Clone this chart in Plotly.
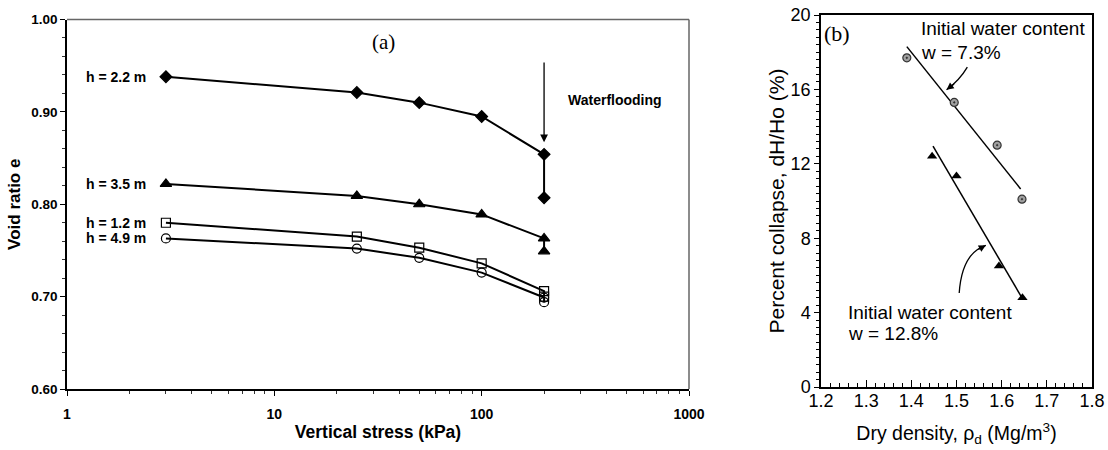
import plotly.graph_objects as go

# ---------------- data: panel (a) ----------------
stress_kpa = [3, 25, 50, 100, 200, 200]
e_h22 = [0.938, 0.921, 0.910, 0.895, 0.854, 0.807]
e_h35 = [0.822, 0.809, 0.800, 0.789, 0.763, 0.749]
e_h12 = [0.780, 0.765, 0.753, 0.736, 0.706, 0.700]
e_h49 = [0.763, 0.752, 0.742, 0.726, 0.699, 0.694]
series_labels = ["h = 2.2 m", "h = 3.5 m", "h = 1.2 m", "h = 4.9 m"]
x_tick_vals = [1, 10, 100, 1000]
x_tick_text = ["1", "10", "100", "1000"]

# ---------------- data: panel (b) ----------------
rho_w73 = [1.39, 1.495, 1.59, 1.645]
col_w73 = [17.7, 15.3, 13.0, 10.1]
rho_w128 = [1.446, 1.50, 1.594, 1.646]
col_w128 = [12.4, 11.35, 6.5, 4.8]
fit_w73_x = [1.39, 1.642]
fit_w73_y = [18.3, 10.65]
fit_w128_x = [1.448, 1.646]
fit_w128_y = [12.95, 4.75]

SANS = "Liberation Sans"
SERIF = "Liberation Serif"
fig = go.Figure()

symbols = ["diamond", "triangle-up", "square-open", "circle-open"]
sizes = [9, 10, 9, 9]
for vals, sym, sz in zip([e_h22, e_h35, e_h12, e_h49], symbols, sizes):
    fig.add_trace(go.Scatter(
        x=stress_kpa, y=vals, mode="lines+markers",
        line=dict(color="black", width=2),
        marker=dict(symbol=sym, size=sz, color="black", line=dict(color="black", width=1.2)),
        xaxis="x", yaxis="y", showlegend=False, hoverinfo="skip"))

# panel (b)
fig.add_trace(go.Scatter(x=fit_w73_x, y=fit_w73_y, mode="lines",
                         line=dict(color="black", width=1.5),
                         xaxis="x2", yaxis="y2", showlegend=False))
fig.add_trace(go.Scatter(x=fit_w128_x, y=fit_w128_y, mode="lines",
                         line=dict(color="black", width=1.5),
                         xaxis="x2", yaxis="y2", showlegend=False))
fig.add_trace(go.Scatter(x=rho_w73, y=col_w73, mode="markers",
                         marker=dict(symbol="circle-dot", size=8, color="#a0a0a0",
                                     line=dict(color="#333", width=1.2)),
                         xaxis="x2", yaxis="y2", showlegend=False))
fig.add_trace(go.Scatter(x=rho_w128, y=col_w128, mode="markers",
                         marker=dict(symbol="triangle-up", size=9, color="black"),
                         xaxis="x2", yaxis="y2", showlegend=False))

minor_log = [m * d for d in (1, 10, 100) for m in range(2, 10)]

BF = dict(family=SANS, size=14, color="black", weight="bold")
ann = []
for lab, vals in zip(series_labels, [e_h22, e_h35, e_h12, e_h49]):
    ann.append(dict(x=0.39, y=vals[0], xref="x", yref="y", text=lab, showarrow=False,
                    xanchor="right", yanchor="middle", font=BF))
ann.append(dict(x=2.405, y=0.913, xref="x", yref="y", text="Waterflooding", showarrow=False,
                xanchor="left", yanchor="middle", font=BF))
ann.append(dict(x=2.301, y=0.867, ax=2.301, ay=0.955, xref="x", yref="y", axref="x", ayref="y",
                text="", showarrow=True, arrowhead=2, arrowsize=1.2, arrowwidth=1.3,
                arrowcolor="black", standoff=0))
ann.append(dict(x=383 / 1108, y=1 - 42 / 450, xref="paper", yref="paper", text="(a)",
                showarrow=False, xanchor="center", yanchor="middle",
                font=dict(family=SERIF, size=21, color="black")))
RF = dict(family=SANS, size=19, color="black")
ann += [
    dict(x=1.416, y=19.25, xref="x2", yref="y2", text="Initial water content", showarrow=False,
         xanchor="left", yanchor="middle", font=RF),
    dict(x=1.416, y=18.0, xref="x2", yref="y2", text="w = 7.3%", showarrow=False,
         xanchor="left", yanchor="middle", font=RF),
    dict(x=1.255, y=3.98, xref="x2", yref="y2", text="Initial water content", showarrow=False,
         xanchor="left", yanchor="middle", font=RF),
    dict(x=1.255, y=2.9, xref="x2", yref="y2", text="w = 12.8%", showarrow=False,
         xanchor="left", yanchor="middle", font=RF),
    dict(x=822 / 1108, y=1 - 33 / 450, xref="paper", yref="paper", text="(b)", showarrow=False,
         xanchor="left", yanchor="middle",
         font=dict(family=SERIF, size=22, color="black")),
    dict(x=1.478, y=15.98, xref="x2", yref="y2", ax=9, ay=-7, text="", showarrow=True,
         arrowhead=2, arrowsize=1.1, arrowwidth=1.3, arrowcolor="black", standoff=0),
    dict(x=1.565, y=7.62, xref="x2", yref="y2", ax=-9, ay=5, text="", showarrow=True,
         arrowhead=2, arrowsize=1.1, arrowwidth=1.3, arrowcolor="black", standoff=0),
]

shapes = [
    dict(type="path", xref="x2", yref="y2", path="M 1.524,17.2 Q 1.507,16.5 1.478,15.98",
         line=dict(color="black", width=1.3)),
    dict(type="path", xref="x2", yref="y2", path="M 1.506,5.05 Q 1.512,7.2 1.565,7.62",
         line=dict(color="black", width=1.3)),
    # plain frame lines on top/right of panel (a)
    dict(type="line", xref="paper", yref="paper", x0=67 / 1108, x1=689 / 1108,
         y0=1 - 19.5 / 450, y1=1 - 19.5 / 450, line=dict(color="#666", width=1.5)),
    dict(type="line", xref="paper", yref="paper", x0=689 / 1108, x1=689 / 1108,
         y0=1 - 389 / 450, y1=1 - 19.5 / 450, line=dict(color="#666", width=1.5)),
]

fig.update_layout(
    width=1108, height=450, margin=dict(l=0, r=0, t=0, b=0, autoexpand=False),
    paper_bgcolor="white", plot_bgcolor="white", showlegend=False,
    annotations=ann, shapes=shapes,
    xaxis=dict(type="log", range=[0, 3], domain=[67 / 1108, 689 / 1108], anchor="y",
               automargin=False,
               tickmode="array", tickvals=x_tick_vals, ticktext=x_tick_text,
               ticks="outside", ticklen=5, tickwidth=1, tickcolor="black",
               ticklabelstandoff=6,
               minor=dict(tickmode="array", tickvals=minor_log, ticks="outside", ticklen=3,
                          tickwidth=1, tickcolor="#333", showgrid=False),
               showline=True, linecolor="black", linewidth=1.5, mirror=False,
               showgrid=False, zeroline=False,
               tickfont=dict(family=SANS, size=14, color="black", weight="bold"),
               title=dict(text="Vertical stress (kPa)", standoff=5,
                          font=dict(family=SANS, size=17.5, color="black", weight="bold"))),
    yaxis=dict(range=[0.6, 1.0], domain=[1 - 389 / 450, 1 - 19.5 / 450], anchor="x",
               automargin=False,
               dtick=0.1, tick0=0.6, tickformat=".2f",
               ticks="outside", ticklen=5, tickwidth=1, tickcolor="black",
               minor=dict(dtick=0.02, ticks="outside", ticklen=3, tickwidth=1,
                          tickcolor="#333", showgrid=False),
               showline=True, linecolor="black", linewidth=1.5, mirror=False,
               showgrid=False, zeroline=False,
               tickfont=dict(family=SANS, size=13.5, color="black", weight="bold"),
               title=dict(text="Void ratio e", standoff=6,
                          font=dict(family=SANS, size=17, color="black", weight="bold"))),
    xaxis2=dict(range=[1.2, 1.8], domain=[821 / 1108, 1092 / 1108], anchor="y2",
                automargin=False,
                dtick=0.1, tick0=1.2, tickformat=".1f",
                ticks="inside", ticklen=7, tickwidth=1, tickcolor="black",
                ticklabelstandoff=-3,
                minor=dict(dtick=0.02, ticks="inside", ticklen=4, tickwidth=1,
                           tickcolor="black", showgrid=False),
                showline=True, linecolor="black", linewidth=1.5, mirror=True,
                showgrid=False, zeroline=False,
                tickfont=dict(family=SANS, size=18, color="black"),
                title=dict(text="Dry density, ρ<sub>d</sub> (Mg/m<sup>3</sup>)", standoff=16,
                           font=dict(family=SANS, size=19.5, color="black"))),
    yaxis2=dict(range=[0, 20], domain=[1 - 387 / 450, 1 - 15 / 450], anchor="x2",
                automargin=False,
                dtick=4, tick0=0,
                ticks="outside", ticklen=5, tickwidth=1, tickcolor="black",
                minor=dict(dtick=0.4, ticks="outside", ticklen=3, tickwidth=1,
                           tickcolor="black", showgrid=False),
                showline=True, linecolor="black", linewidth=1.5, mirror=True,
                showgrid=False, zeroline=False,
                tickfont=dict(family=SANS, size=18, color="black"),
                title=dict(text="Percent collapse, dH/Ho (%)", standoff=0,
                           font=dict(family=SANS, size=21, color="black"))),
)

fig.write_html("out.html", config={"displayModeBar": False},
               post_script="document.body.style.margin='0px';")
